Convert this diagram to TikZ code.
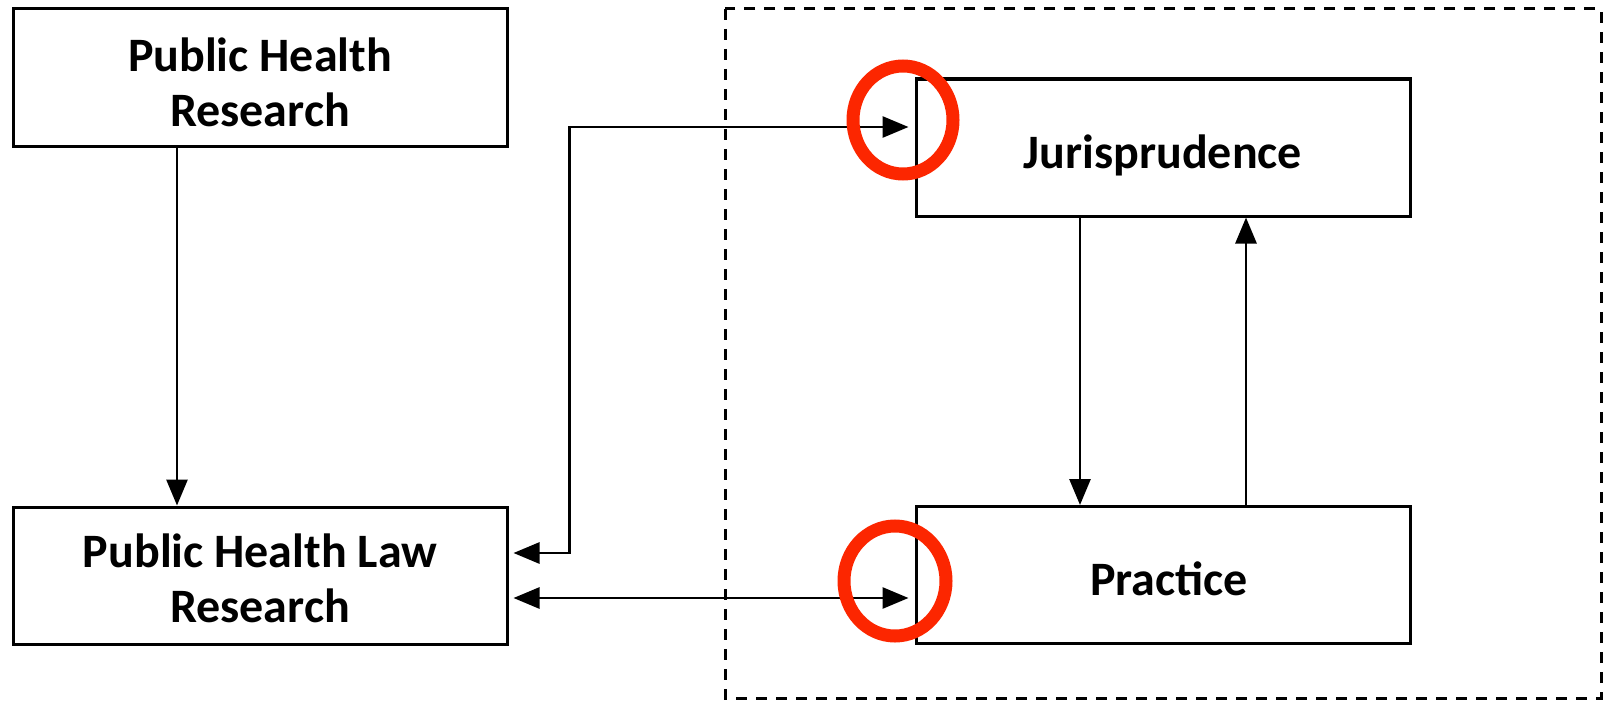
\documentclass[tikz,border=0pt]{standalone}
\usepackage{fontspec}
\setmainfont{Carlito}
\usetikzlibrary{arrows.meta,positioning}
\definecolor{markred}{RGB}{252,38,0}
\tikzset{
  box/.style={draw=black, line width=3pt, minimum width=494pt, minimum height=137pt,
    inner sep=0pt},
  lbl/.style={inner sep=0pt, align=center, font=\fontsize{48}{55}\selectfont\bfseries},
  arr/.style={line width=2.8pt, -{Triangle[length=26pt,width=21pt]}},
  biarr/.style={line width=2.8pt, {Triangle[length=26pt,width=21pt]}-{Triangle[length=26pt,width=21pt]}},
  frame/.style={draw=black, line width=3pt, dash pattern=on 11pt off 9pt},
  redring/.style={draw=markred, line width=13pt}
}
\begin{document}
\begin{tikzpicture}[x=1pt,y=-1pt]
\useasboundingbox (0,0) rectangle (1606,701);
\draw[frame] (725,9) rectangle (1601,698);
\node[box] (phr) at (260,77.5) {};
\node[box] (phlr) at (260,575.5) {};
\node[box] (jur) at (1163,147.5) {};
\node[box] (prac) at (1163,575) {};
\node[lbl] (phrt) at ([yshift=-5pt]phr.center) {Public Health\\Research};
\node[lbl] (phlrt) at ([yshift=-3pt]phlr.center) {Public Health Law\\Research};
\node[lbl] (jurt) at ([yshift=-8pt]jur.center) {Jurisprudence};
\node[lbl] (pract) at ([xshift=6pt,yshift=-4pt]prac.center) {Practice};
% connectors
\draw[arr] ([xshift=-83pt]phr.south) -- ([xshift=-83pt]phlr.north);
\draw[biarr, shorten <=5pt, shorten >=6pt] ([yshift=22.5pt]phlr.east) -- ++(61,0) |- ([yshift=20.5pt]jur.west);
\draw[biarr, shorten <=5pt, shorten >=6pt] ([yshift=-22.5pt]phlr.east) -- ([yshift=-22.5pt]phlr.east -| prac.west);
\draw[arr] ([xshift=-83pt]jur.south) -- ([xshift=-83pt]prac.north);
\draw[arr] ([xshift=83pt]prac.north) -- ([xshift=83pt]jur.south);
% red marks
\draw[redring] (903,120) ellipse [x radius=50, y radius=54];
\draw[redring] (895,581) ellipse [x radius=51, y radius=55];
\end{tikzpicture}
\end{document}
